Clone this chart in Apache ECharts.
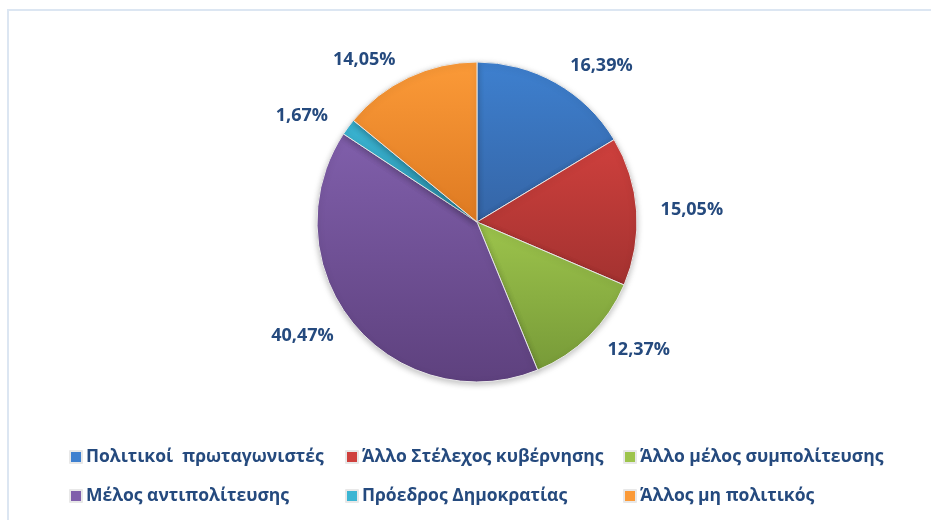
<!DOCTYPE html>
<html>
<head>
<meta charset="utf-8">
<script src="https://cdn.jsdelivr.net/npm/echarts@6/dist/echarts.min.js"></script>
<style>
  html, body { margin: 0; padding: 0; background: #fff; }
  #chart { width: 931px; height: 520px; }
</style>
</head>
<body>
<div id="chart"></div>
<script>
var categories = ['Πολιτικοί  πρωταγωνιστές', 'Άλλο Στέλεχος κυβέρνησης', 'Άλλο μέλος συμπολίτευσης',
                  'Μέλος αντιπολίτευσης', 'Πρόεδρος Δημοκρατίας', 'Άλλος μη πολιτικός'];
var values = [16.39, 15.05, 12.37, 40.47, 1.67, 14.05];
var topColors = ['#3e80cf', '#cf403d', '#9dc44c', '#805fab', '#3bb5d3', '#fb9a38'];
var bottomColors = ['#3565a6', '#a33230', '#779a38', '#5e417e', '#2c94b0', '#de7a22'];

var legendLeft = [69, 345, 623];
var legendTop = [448, 487];

var myChart = echarts.init(document.getElementById('chart'));

var data = [];
for (var i = 0; i < values.length; i++) {
    data.push({
        name: categories[i],
        value: values[i],
        itemStyle: {
            color: new echarts.graphic.LinearGradient(0, 0, 0, 1, [
                { offset: 0, color: topColors[i] },
                { offset: 1, color: bottomColors[i] }
            ])
        }
    });
}

var legends = [];
for (var j = 0; j < categories.length; j++) {
    legends.push({
        data: [{ name: categories[j], itemStyle: { color: topColors[j] } }],
        left: legendLeft[j % 3],
        top: legendTop[Math.floor(j / 3)],
        padding: 0,
        icon: 'rect',
        itemWidth: 12,
        itemHeight: 12,
        itemGap: 5,
        selectedMode: false,
        textStyle: {
            fontFamily: 'Open Sans',
            fontWeight: 'bold',
            fontSize: 17.5,
            color: '#254a7e',
            padding: [0, 0, 0, -1]
        }
    });
}

var option = {
    animation: false,
    graphic: [
        { type: 'rect', shape: { x: 8, y: 10, width: 1000, height: 600 },
          style: { fill: 'none', stroke: '#dce6f2', lineWidth: 2 } }
    ],
    legend: legends,
    series: [{
        type: 'pie',
        center: [477, 222],
        radius: 160,
        startAngle: 90,
        clockwise: true,
        data: data,
        itemStyle: {
            borderColor: '#e8e8e8',
            borderWidth: 1,
            shadowColor: 'rgba(0,0,0,0.25)',
            shadowBlur: 6,
            shadowOffsetY: 2
        },
        label: {
            show: true,
            position: 'outside',
            formatter: function (p) { return p.value.toFixed(2).replace('.', ',') + '%'; },
            fontFamily: 'Open Sans',
            fontWeight: 'bold',
            fontSize: 18,
            color: '#254a7e'
        },
        labelLine: { show: false, length: 19, length2: 0 }
    }]
};
myChart.setOption(option);
</script>
</body>
</html>
